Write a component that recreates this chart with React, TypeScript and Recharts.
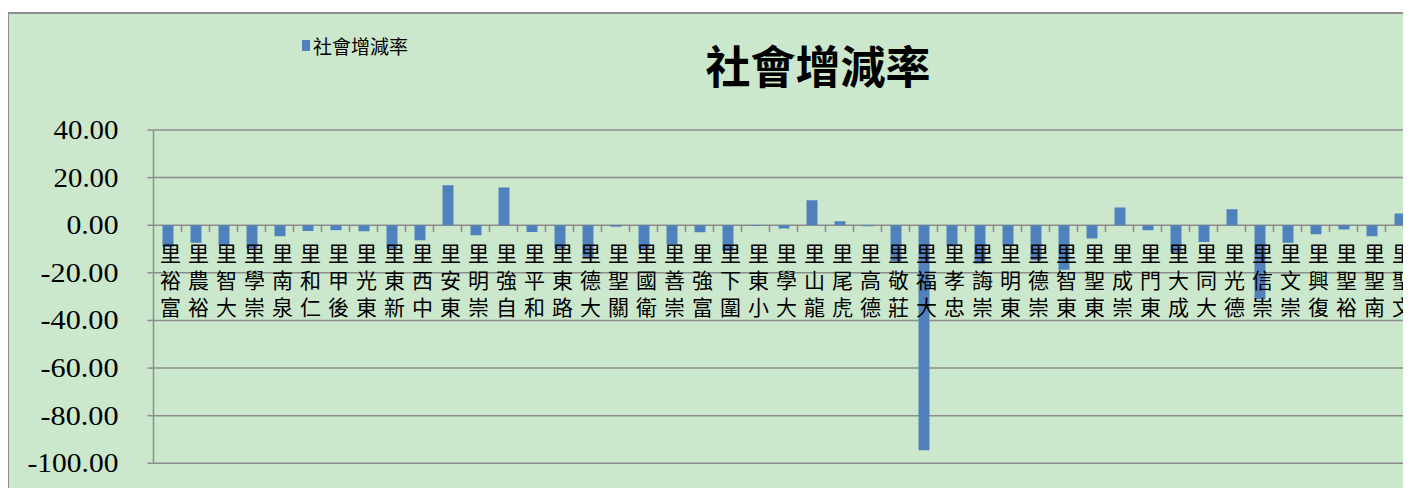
import { BarChart, Bar, XAxis, YAxis, CartesianGrid, Legend } from 'recharts';

// 里別 (read left to right off the reference)
const categories = [
  '富裕里', '裕農里', '大智里', '崇學里', '泉南里', '仁和里', '後甲里', '東光里', '新東里', '中西里',
  '東安里', '崇明里', '自強里', '和平里', '路東里', '大德里', '關聖里', '衛國里', '崇善里', '富強里',
  '圍下里', '小東里', '大學里', '龍山里', '虎尾里', '德高里', '莊敬里', '大福里', '忠孝里', '崇誨里',
  '東明里', '崇德里', '東智里', '東聖里', '崇成里', '東門里', '成大里', '大同里', '德光里', '崇信里',
  '崇文里', '復興里', '裕聖里', '南聖里', '文聖里',
];

// 社會增減率
const socialRate = [
  -9.1, -7.4, -8.4, -9.8, -4.6, -2.4, -2.1, -2.5, -9.8, -6.3,
  16.8, -4.2, 15.8, -2.8, -9.8, -13.3, -0.6, -10.1, -8.1, -2.9,
  -10.8, -0.3, -1.4, 10.5, 1.7, -0.4, -15.0, -94.5, -8.8, -16.1,
  -8.8, -14.7, -18.7, -5.6, 7.4, -2.1, -11.2, -7.0, 6.7, -31.1,
  -7.4, -3.8, -1.8, -4.6, 4.9,
];

const yTicks = [40, 20, 0, -20, -40, -60, -80, -100];

const data = categories.map((name, i) => ({ name, value: socialRate[i] }));

const Y_MIN = -100;
const Y_MAX = 40;
const CHART_W = 1420;
const CHART_H = 480;
const PLOT_LEFT = 146.5;
const PLOT_TOP = 118;
const PLOT_W = 1260;
const PLOT_H = 333.3;
const X_AXIS_H = 1;

const GRID = '#8c8c8c';
const BAR = '#4F81BD';
const BG = '#CBE8CD';
const CJK = "'Noto Sans CJK TC', 'Noto Sans CJK JP', sans-serif";

function CategoryTick(props: any) {
  const { x, y, payload } = props;
  const zeroY = y - (PLOT_H * (0 - Y_MIN)) / (Y_MAX - Y_MIN);
  const band = PLOT_W / categories.length;
  const chars = Array.from(String(payload.value)).reverse();
  return (
    <g>
      <line x1={x + band / 2} x2={x + band / 2} y1={zeroY} y2={zeroY + 7} stroke={GRID} strokeWidth={1.5} />
      {chars.map((c, i) => (
        <text
          key={i}
          x={x + 3}
          y={zeroY + 27 * (i + 1)}
          textAnchor="middle"
          dominantBaseline="central"
          fontSize={21}
          fontFamily={CJK}
          fill="#000"
        >
          {c}
        </text>
      ))}
    </g>
  );
}

function ValueTick(props: any) {
  const { x, y, payload } = props;
  const label = Number(payload.value).toFixed(2);
  return (
    <text
      x={x}
      y={y}
      textAnchor="end"
      dominantBaseline="central"
      fontSize={27}
      fontFamily="'Liberation Serif', serif"
      fill="#000"
      textLength={label.length * 13}
      lengthAdjust="spacingAndGlyphs"
    >
      {label}
    </text>
  );
}

const renderLegend = () => (
  <div style={{ display: 'flex', alignItems: 'center', fontFamily: CJK, fontSize: 19, lineHeight: '19px', color: '#000' }}>
    <span style={{ display: 'inline-block', width: 8, height: 11, background: BAR, marginRight: 3 }} />
    社會增減率
  </div>
);

export default function App() {
  return (
    <div style={{ position: 'relative', width: 1404, height: 476, overflow: 'hidden', marginLeft: -1, marginTop: 4 }}>
      <div
        style={{
          position: 'absolute',
          left: 0,
          top: 0,
          width: 1700,
          height: 520,
          boxSizing: 'border-box',
          border: `2px solid ${GRID}`,
          background: BG,
        }}
      />
      <div
        style={{
          position: 'absolute',
          left: 611,
          top: 28,
          width: 400,
          textAlign: 'center',
          fontFamily: CJK,
          fontWeight: 700,
          fontSize: 45,
          lineHeight: '50px',
          color: '#000',
        }}
      >
        社會增減率
      </div>
      <div style={{ position: 'absolute', left: 0, top: 0 }}>
        <BarChart
          width={CHART_W}
          height={CHART_H}
          data={data}
          barSize={11}
          margin={{
            top: PLOT_TOP,
            left: 0,
            right: CHART_W - PLOT_LEFT - PLOT_W,
            bottom: CHART_H - PLOT_TOP - PLOT_H - X_AXIS_H,
          }}
        >
          <CartesianGrid vertical={false} stroke={GRID} strokeWidth={1.5} />
          <XAxis
            dataKey="name"
            height={X_AXIS_H}
            interval={0}
            axisLine={false}
            tickLine={false}
            tickSize={0}
            tickMargin={0}
            tick={<CategoryTick />}
          />
          <YAxis
            width={PLOT_LEFT}
            domain={[Y_MIN, Y_MAX]}
            ticks={yTicks}
            allowDataOverflow
            axisLine={{ stroke: GRID, strokeWidth: 1.5 }}
            tickLine={{ stroke: GRID, strokeWidth: 1.5 }}
            tickSize={6}
            tickMargin={29}
            tick={<ValueTick />}
          />
          <Legend
            layout="horizontal"
            verticalAlign="middle"
            align="center"
            wrapperStyle={{ left: 295, top: 24, width: 'auto', height: 'auto' }}
            content={renderLegend}
          />
          <Bar dataKey="value" name="社會增減率" fill={BAR} isAnimationActive={false} />
        </BarChart>
      </div>
    </div>
  );
}
